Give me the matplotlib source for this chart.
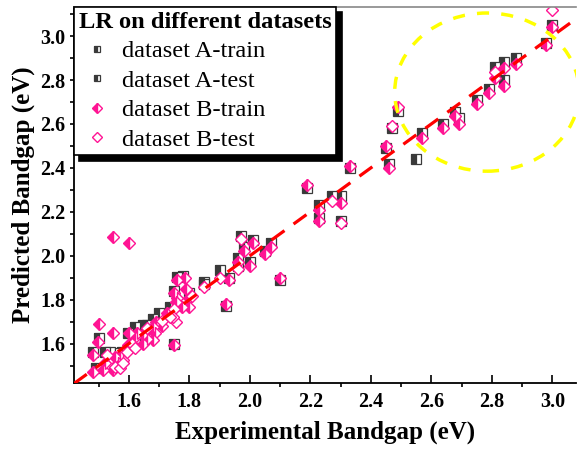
import matplotlib
matplotlib.use("Agg")
import matplotlib.pyplot as plt
from matplotlib.patches import Ellipse
from matplotlib.ticker import MultipleLocator

plt.rcParams['font.family'] = ['Liberation Serif', 'DejaVu Serif']

# dataset A (squares)
a_train_x = [3.00, 2.98, 2.88, 2.84, 2.84, 2.79, 2.75, 2.68, 2.69, 2.64,
             2.57, 2.55, 2.49, 2.45, 2.46, 2.33, 2.19, 2.30, 2.23, 2.23,
             2.01, 1.98, 2.07, 2.05, 1.96, 2.00, 1.93, 1.85, 2.10, 1.92,
             1.76, 1.78, 1.75, 1.85, 1.75, 1.50, 1.735, 1.70, 1.68, 1.645,
             1.62, 1.597, 1.48, 1.49, 1.52, 1.537, 1.554, 1.577, 1.80]
a_train_y = [3.05, 2.97, 2.90, 2.88, 2.80, 2.76, 2.71, 2.655, 2.625, 2.60,
             2.56, 2.44, 2.66, 2.49, 2.42, 2.40, 2.31, 2.27, 2.23, 2.17,
             2.07, 2.04, 2.06, 2.02, 1.99, 1.97, 1.90, 1.88, 1.89, 1.77,
             1.905, 1.91, 1.84, 1.87, 1.60, 1.625, 1.765, 1.74, 1.71, 1.685,
             1.675, 1.65, 1.56, 1.49, 1.56, 1.56, 1.557, 1.56, 1.83]
a_test_x = [2.81, 2.47, 2.27, 2.30, 1.97, 1.96, 1.90, 1.62, 1.66]
a_test_y = [2.86, 2.58, 2.27, 2.16, 2.09, 1.955, 1.935, 1.60, 1.685]

# dataset B (diamonds)
b_train_x = [3.00, 2.98, 2.88, 2.84, 2.81, 2.84, 2.79, 2.75, 2.68, 2.69,
             2.64, 2.57, 2.49, 2.45, 2.46, 2.33, 2.19, 2.30, 2.23, 2.23,
             2.01, 1.98, 2.07, 2.05, 1.96, 2.00, 1.93, 2.10, 1.92, 1.547,
             1.60, 1.50, 1.547, 1.497, 1.75, 1.76, 1.785, 1.75, 1.79, 1.80,
             1.76, 1.755, 1.80, 1.775, 1.725, 1.69, 1.68, 1.686, 1.68, 1.645,
             1.62, 1.645, 1.60, 1.626, 1.48, 1.48, 1.515, 1.52, 1.554, 1.57,
             1.564, 1.547, 1.597, 1.58, 1.71, 1.66]
b_train_y = [3.04, 2.96, 2.875, 2.855, 2.81, 2.775, 2.74, 2.69, 2.635, 2.60,
             2.58, 2.535, 2.676, 2.50, 2.40, 2.41, 2.32, 2.24, 2.21, 2.16,
             2.06, 2.02, 2.04, 2.01, 1.97, 1.955, 1.89, 1.90, 1.78, 2.085,
             2.057, 1.69, 1.647, 1.607, 1.593, 1.89, 1.90, 1.83, 1.85, 1.81,
             1.81, 1.79, 1.765, 1.765, 1.74, 1.70, 1.675, 1.65, 1.615, 1.60,
             1.63, 1.645, 1.647, 1.647, 1.547, 1.47, 1.48, 1.51, 1.54, 1.547,
             1.51, 1.48, 1.593, 1.525, 1.68, 1.62]
b_test_x = [3.00, 2.81, 2.47, 2.27, 2.30, 1.97, 1.96, 1.90, 1.85, 1.75,
            1.755, 1.745, 1.81, 1.66, 1.71, 1.735, 1.527, 1.554, 1.57, 1.593,
            1.61, 1.58, 1.62]
b_test_y = [3.12, 2.835, 2.59, 2.25, 2.15, 2.075, 1.94, 1.90, 1.86, 1.76,
            1.70, 1.72, 1.815, 1.67, 1.705, 1.72, 1.548, 1.493, 1.49, 1.56,
            1.60, 1.51, 1.58]

dark = '#3a3a3a'
pink = '#ff1493'

fig = plt.figure(figsize=(5.77, 4.57), dpi=100)
ax = fig.add_axes([0.128, 0.161, 0.870, 0.824])

sq = dict(linestyle='none', marker='s', markersize=6.5, fillstyle='left',
          markerfacecolor=dark, markerfacecoloralt='white',
          markeredgecolor=dark, markeredgewidth=0.9)
ax.plot(a_train_x, a_train_y, label='dataset A-train', **sq)
ax.plot(a_test_x, a_test_y, label='dataset A-test', **sq)
ax.plot(b_train_x, b_train_y, linestyle='none', marker='D', markersize=6.3,
        fillstyle='left', markerfacecolor=pink, markerfacecoloralt='white',
        markeredgecolor=pink, markeredgewidth=1.0, label='dataset B-train')
ax.plot(b_test_x, b_test_y, linestyle='none', marker='D', markersize=6.3,
        markerfacecolor='white', markeredgecolor=pink, markeredgewidth=1.0,
        label='dataset B-test')

xlo, xhi = 1.418, 3.078
ylo, yhi = 1.419, 3.133
ax.plot([xlo, yhi], [xlo, yhi], color='red', linewidth=2.3,
        linestyle=(0, (5, 3.5)), zorder=5)

ell = Ellipse((2.784, 2.745), 0.61, 0.72, fill=False, edgecolor='#ffff00',
              linewidth=2.5, linestyle=(0, (3.5, 3.5)), zorder=6)
ax.add_patch(ell)

ax.set_xlim(xlo, xhi)
ax.set_ylim(ylo, yhi)
ax.xaxis.set_major_locator(MultipleLocator(0.2))
ax.xaxis.set_minor_locator(MultipleLocator(0.1))
ax.yaxis.set_major_locator(MultipleLocator(0.2))
ax.yaxis.set_minor_locator(MultipleLocator(0.1))
ax.tick_params(axis='x', which='major', direction='in', length=6, width=1.2, pad=6)
ax.tick_params(axis='x', which='minor', direction='out', length=3, width=1.2)
ax.tick_params(axis='y', which='both', direction='out', length=3, width=1.2, pad=3)
for lab in ax.get_xticklabels() + ax.get_yticklabels():
    lab.set_fontsize(14.5)
    lab.set_fontweight('bold')

ax.spines['left'].set_linewidth(1.3)
ax.spines['bottom'].set_linewidth(1.3)
ax.spines['top'].set_color('#888888')
ax.spines['top'].set_linewidth(1.2)
ax.spines['right'].set_visible(False)

ax.set_xlabel('Experimental Bandgap (eV)', fontsize=18, fontweight='bold', labelpad=6)
ax.set_ylabel('Predicted Bandgap (eV)', fontsize=18, fontweight='bold', labelpad=4)

leg = ax.legend(loc='upper left', bbox_to_anchor=(0, 1), borderaxespad=0,
                title='LR on different datasets',
                title_fontproperties={'weight': 'bold', 'size': 17.6},
                prop={'size': 17.6}, alignment='left', fancybox=False,
                edgecolor='black', framealpha=1, markerscale=0.75,
                handlelength=1.5, handletextpad=0.25, labelspacing=0.3,
                borderpad=0.2,
                shadow={'ox': 4, 'oy': -4, 'color': 'black', 'alpha': 1})
leg.get_frame().set_linewidth(1.2)
leg.set_zorder(10)

fig.savefig('out.png', dpi=100)
